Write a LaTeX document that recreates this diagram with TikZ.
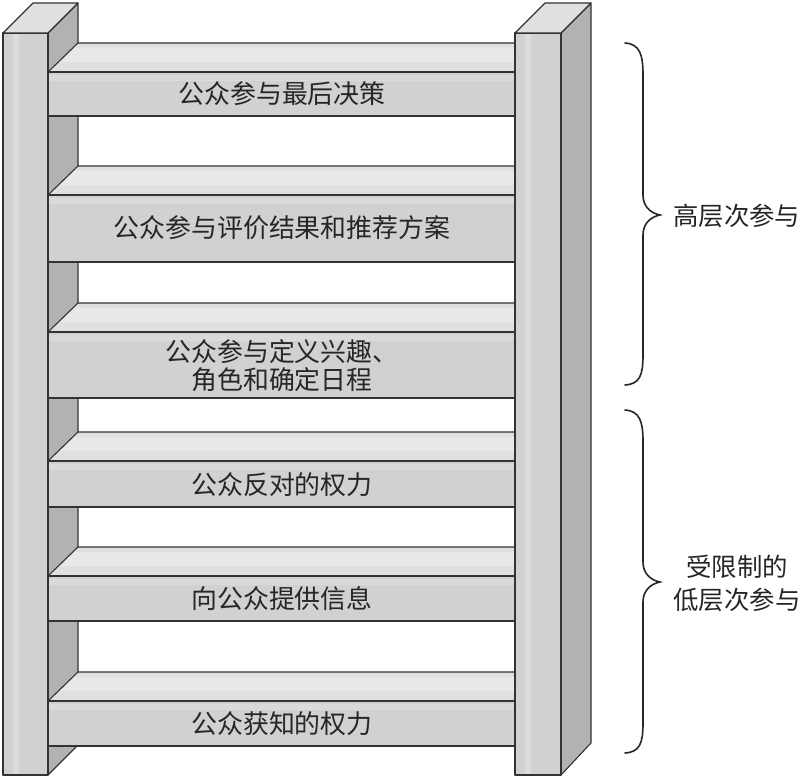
\documentclass[tikz,border=0pt]{standalone}
\usepackage{fontspec}
\newfontfamily\cjk{Noto Sans CJK SC}
\begin{document}
\begin{tikzpicture}[x=1bp,y=-1bp,
  edge/.style={draw=black!80,line width=1.1bp,line join=round},
  frontface/.style={edge,fill=black!18},
  topface/.style={edge,fill=black!12},
  sideface/.style={edge,fill=black!30},
  rungtext/.style={font=\cjk\fontsize{26}{28}\selectfont,text=black!85,align=center,inner sep=0pt},
  sidetext/.style={font=\cjk\fontsize{25.5}{33}\selectfont,text=black!85,align=center,inner sep=0pt},
  bracepath/.style={draw=black!85,line width=1.6bp,line cap=round}]
\useasboundingbox (0,0) rectangle (802,777);
% left post
\path[sideface] (48,33) -- (78,3) -- (78,745) -- (48,775) -- cycle;
\path[frontface] (3,33) rectangle (48,775);
\fill[white,opacity=0.25] (13,34) rectangle (19,774);
\path[topface] (3,33) -- (48,33) -- (78,3) -- (33,3) -- cycle;
% rungs
\foreach \t/\b in {72/116,195/262,332/398,461/507,576/621,701/746}{
  \path[topface] (48,\t) -- (78,\t-29) -- (515,\t-29) -- (515,\t) -- cycle;
  \fill[white,opacity=0.3] (74,\t-24) -- (515,\t-24) -- (515,\t-10) -- (61,\t-10) -- cycle;
  \path[frontface] (48,\t) rectangle (515,\b);
  \fill[white,opacity=0.2] (49,\t+3) rectangle (514,\t+9);
}
% right post
\path[sideface] (561,33) -- (591,3) -- (591,743) -- (561,775) -- cycle;
\path[frontface] (515,33) rectangle (561,775);
\fill[white,opacity=0.25] (525,34) rectangle (531,774);
\path[topface] (515,33) -- (561,33) -- (591,3) -- (545,3) -- cycle;
% rung labels
\node[rungtext] (r1) at (282,94) {公众参与最后决策};
\node[rungtext] (r2) at (282,228) {公众参与评价结果和推荐方案};
\node[rungtext] (r3) at (282,366) {公众参与定义兴趣、\\角色和确定日程};
\node[rungtext] (r4) at (282,485) {公众反对的权力};
\node[rungtext] (r5) at (282,599) {向公众提供信息};
\node[rungtext] (r6) at (282,724) {公众获知的权力};
% braces
\coordinate (ua) at (625,43);
\coordinate (ut) at (660,215);
\coordinate (ub) at (625,385);
\draw[bracepath] (ua) .. controls (640,44) and (643,55) .. (643,75) -- (643,195)
  .. controls (643,206) and (650,213) .. (ut)
  .. controls (650,217) and (643,224) .. (643,235) -- (643,355)
  .. controls (643,375) and (640,384) .. (ub);
\coordinate (la) at (625,410);
\coordinate (lt) at (660,582);
\coordinate (lb) at (625,753);
\draw[bracepath] (la) .. controls (640,411) and (643,422) .. (643,442) -- (643,562)
  .. controls (643,573) and (650,580) .. (lt)
  .. controls (650,584) and (643,591) .. (643,602) -- (643,723)
  .. controls (643,743) and (640,752) .. (lb);
\node[sidetext,anchor=west] (hi) at (673,216) {高层次参与};
\node[sidetext] (lo) at (737,583) {受限制的\\低层次参与};
\end{tikzpicture}
\end{document}
